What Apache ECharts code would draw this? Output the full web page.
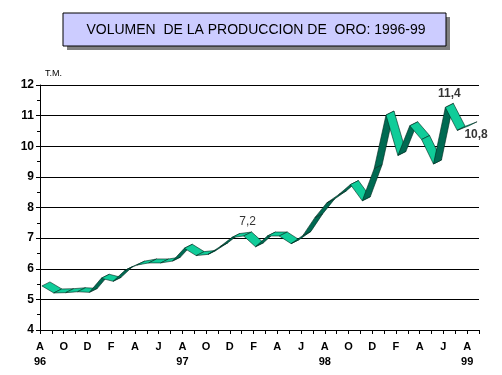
<!DOCTYPE html>
<html>
<head>
<meta charset="utf-8">
<script src="https://cdn.jsdelivr.net/npm/echarts@6/dist/echarts.min.js"></script>
<style>
html,body{margin:0;padding:0;background:#fff;}
#chart{width:502px;height:375px;}
</style>
</head>
<body>
<div id="chart"></div>
<script>
// Tick labels for the month axis (Aug 96 .. Sep 99), every other one is shown
var tickLabels = ['A\n96','S','O','N','D','E','F','M','A','M','J','J',
                  'A\n97','S','O','N','D','E','F','M','A','M','J','J',
                  'A\n98','S','O','N','D','E','F','M','A','M','J','J',
                  'A\n99','S'];
// Data months (Aug 96 .. Aug 99)
var months = ['Ago96','Sep96','Oct96','Nov96','Dic96','Ene97','Feb97','Mar97','Abr97','May97','Jun97','Jul97',
              'Ago97','Sep97','Oct97','Nov97','Dic97','Ene98','Feb98','Mar98','Abr98','May98','Jun98','Jul98',
              'Ago98','Sep98','Oct98','Nov98','Dic98','Ene99','Feb99','Mar99','Abr99','May99','Jun99','Jul99',
              'Ago99'];
// Volumen (T.M.)
var volumen = [5.57,5.34,5.35,5.38,5.36,5.82,5.72,6.08,6.25,6.32,6.32,6.38,
               6.80,6.56,6.60,6.85,7.15,7.20,6.85,7.20,7.20,6.95,7.22,7.80,
               8.28,8.55,8.88,8.35,9.40,11.15,9.83,10.80,10.35,9.55,11.40,10.65,
               10.80];
var labeledIdx = [17, 34, 36];
var yTicks = {min: 4, max: 12, interval: 1};
var titleText = 'VOLUMEN  DE LA PRODUCCION DE  ORO: 1996-99';

var DEPTH_X = 8, DEPTH_Y = 4;
var LIGHT = '#10CC99', DARK = '#006A52';

var segs = volumen.slice(0, -1).map(function (v, i) { return [i, v, volumen[i + 1]]; });

var chart = echarts.init(document.getElementById('chart'), null, {renderer: 'canvas'});
var FONT = 'Liberation Sans, Arial, sans-serif';

var option = {
  animation: false,
  backgroundColor: '#fff',
  grid: {left: 40, right: 23, top: 85, bottom: 45, containLabel: false},
  graphic: [
    {type: 'rect', shape: {x: 67, y: 17, width: 383, height: 33}, style: {fill: '#808080'}, z: 1},
    {type: 'rect', shape: {x: 63, y: 13, width: 383, height: 33}, style: {fill: '#CCCCFF', stroke: '#000', lineWidth: 1}, z: 2},
    {type: 'text', x: 256, y: 30, z: 3, style: {text: titleText, font: '14px ' + FONT, fill: '#000', align: 'center', verticalAlign: 'middle'}}
  ],
  xAxis: [
    {
      type: 'category', data: tickLabels, boundaryGap: false, gridIndex: 0,
      axisLine: {lineStyle: {color: '#000', width: 1}},
      axisTick: {show: true, interval: 0, length: 4, lineStyle: {color: '#000'}},
      axisLabel: {interval: 1, color: '#000', fontFamily: FONT, fontWeight: 'bold', fontSize: 11, lineHeight: 15, margin: 9},
      splitLine: {show: false}
    },
    {
      type: 'category', data: months, boundaryGap: true, gridIndex: 0, show: false
    }
  ],
  yAxis: {
    type: 'value', min: yTicks.min, max: yTicks.max, interval: yTicks.interval,
    name: 'T.M.', nameLocation: 'end', nameGap: 7,
    nameTextStyle: {color: '#000', fontFamily: FONT, fontSize: 9, align: 'left', padding: [0, 0, 0, 5]},
    axisLine: {show: true, lineStyle: {color: '#000', width: 1}},
    axisTick: {show: true, length: 4, lineStyle: {color: '#000'}},
    minorTick: {show: true, splitNumber: 2, length: 3, lineStyle: {color: '#000'}},
    axisLabel: {color: '#000', fontFamily: FONT, fontWeight: 'bold', fontSize: 12, margin: 6},
    splitLine: {show: true, lineStyle: {color: '#000', width: 1}}
  },
  series: [
    {
      type: 'custom', xAxisIndex: 1, yAxisIndex: 0,
      data: segs,
      encode: {x: 0, y: 1},
      renderItem: function (params, api) {
        var i = api.value(0), v0 = api.value(1), v1 = api.value(2);
        var p0 = api.coord([i, v0]), p1 = api.coord([i + 1, v1]);
        var bx = DEPTH_X / 2, fx = -DEPTH_X / 2, fy = DEPTH_Y;
        var pts = [[p0[0] + fx, p0[1] + fy], [p1[0] + fx, p1[1] + fy], [p1[0] + bx, p1[1]], [p0[0] + bx, p0[1]]];
        var slope = (p1[1] - p0[1]) / (p1[0] - p0[0]);
        var dark = slope < -DEPTH_Y / DEPTH_X;
        return {type: 'polygon', shape: {points: pts}, style: {fill: dark ? DARK : LIGHT, stroke: '#00261d', lineWidth: 0.6}};
      },
      z: 5
    },
    {
      type: 'scatter', xAxisIndex: 1, yAxisIndex: 0, symbolSize: 0, z: 6,
      data: labeledIdx.map(function (i) {
        var last = (i === volumen.length - 1);
        return {
          value: [i, volumen[i]],
          label: {
            show: true,
            position: last ? 'bottom' : 'top',
            distance: last ? 7 : 4,
            offset: last ? [3, 0] : [0, 0],
            fontFamily: FONT, fontSize: 12,
            fontWeight: (i === 17) ? 'normal' : 'bold',
            color: '#000',
            formatter: function (p) { return p.value[1].toFixed(1).replace('.', ','); }
          }
        };
      })
    }
  ]
};
chart.setOption(option);
</script>
</body>
</html>
